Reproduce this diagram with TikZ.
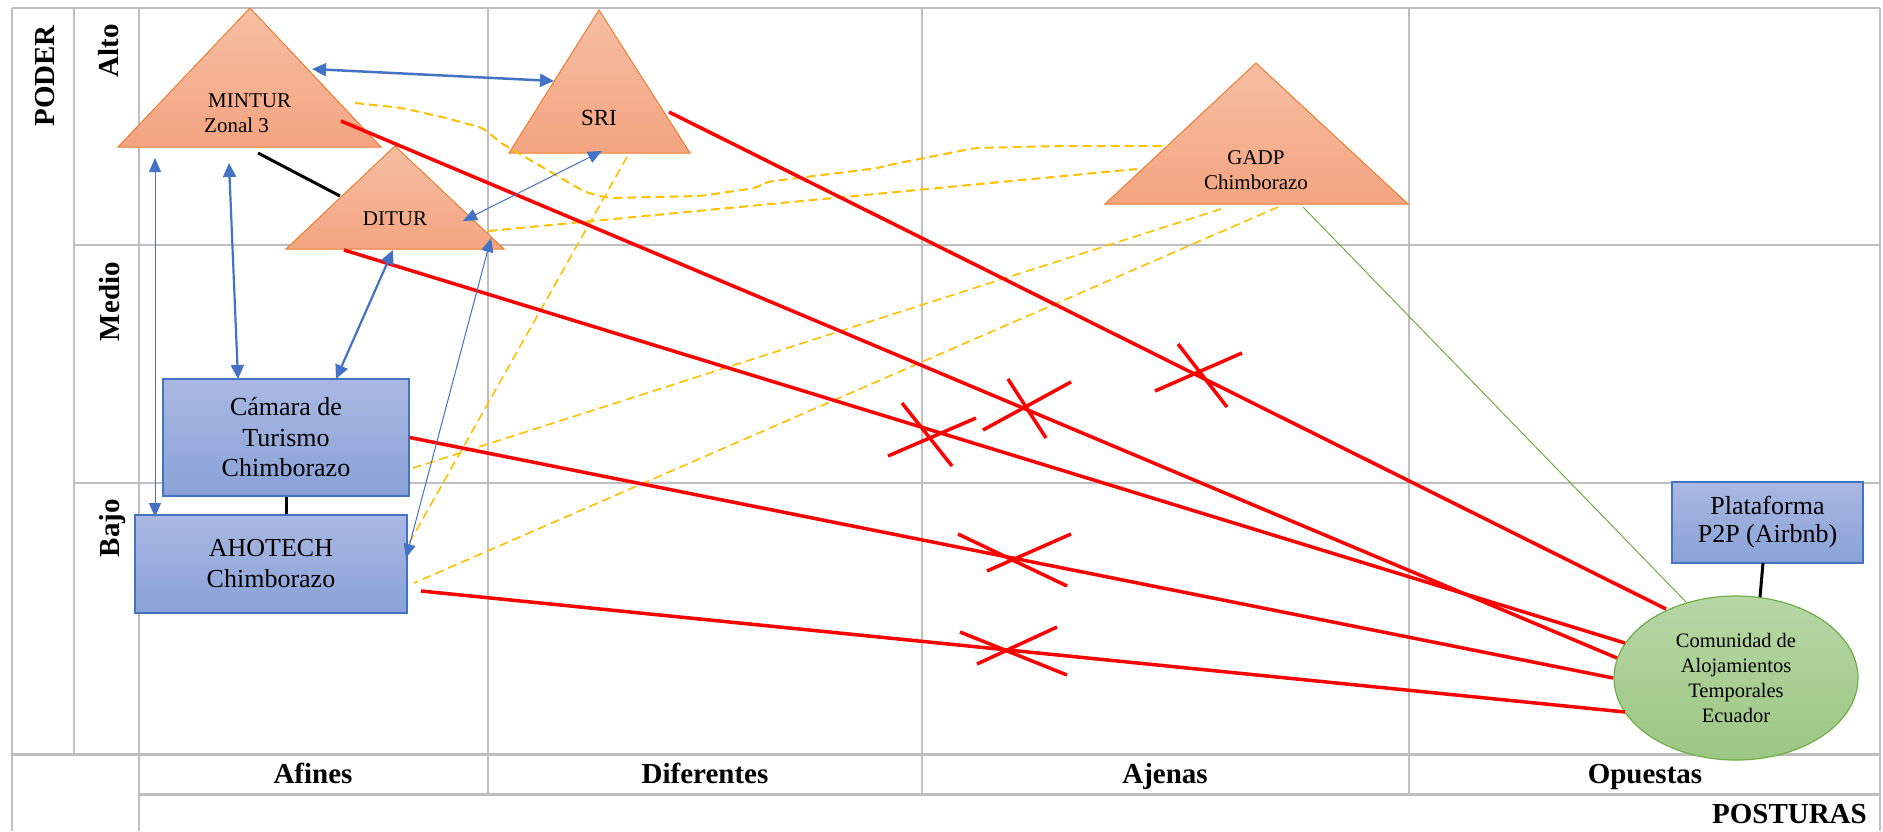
\documentclass[tikz,border=0pt]{standalone}
\usepackage{fontspec}
\setmainfont{Liberation Serif}
\usetikzlibrary{arrows.meta,shapes.geometric}
\definecolor{gridc}{HTML}{BFBFBF}
\definecolor{tribd}{HTML}{ED7D31}
\definecolor{tritop}{RGB}{246,190,163}
\definecolor{tribot}{RGB}{244,164,128}
\definecolor{boxtop}{RGB}{170,184,226}
\definecolor{boxbot}{RGB}{137,162,215}
\definecolor{boxbd}{HTML}{4472C4}
\definecolor{elltop}{RGB}{183,215,166}
\definecolor{ellbot}{RGB}{156,199,131}
\definecolor{ellbd}{HTML}{70AD47}
\definecolor{arrc}{HTML}{4472C4}
\definecolor{dashc}{HTML}{FFC000}
\begin{document}
\begin{tikzpicture}[x=1pt,y=-1pt,
  gridl/.style={draw=gridc,line width=2pt},
  tri/.style={draw=tribd,line width=1pt,top color=tritop,bottom color=tribot},
  trilabel/.style={inner sep=0pt,align=center,font=\fontsize{21}{25}\selectfont},
  bluebox/.style={rectangle,draw=boxbd,line width=1.3pt,top color=boxtop,bottom color=boxbot,inner sep=0pt,align=center},
  hdr/.style={font=\fontsize{29}{34}\selectfont\bfseries,inner sep=0pt},
  rline/.style={draw=red,line width=3.5pt},
  xmark/.style={draw=red,line width=3.5pt},
  blk/.style={draw=black,line width=3pt},
  dline/.style={draw=dashc,line width=2pt,dash pattern=on 9pt off 5pt},
  dlinet/.style={draw=dashc,line width=1.6pt,dash pattern=on 9pt off 5pt},
  greenl/.style={draw=ellbd,line width=1pt},
  barrow/.style={draw=arrc,line width=2.5pt,{Triangle[length=14pt,width=13pt]}-{Triangle[length=14pt,width=13pt]}},
  tarrow/.style={draw=arrc,line width=1pt,{Triangle[length=14pt,width=12pt]}-{Triangle[length=14pt,width=12pt]}}
]
\useasboundingbox (0,0) rectangle (1883,831);
\fill[white] (0,0) rectangle (1883,831);

% ---------- grid ----------
\draw[gridl] (12,8) -- (1880,8);
\draw[gridl] (12,8) -- (12,831);
\draw[gridl] (139,8) -- (139,831);
\draw[gridl] (1880,8) -- (1880,831);
\draw[gridl] (74,8) -- (74,754);
\foreach \x in {488,922,1409} \draw[gridl] (\x,8) -- (\x,794);
\draw[gridl] (74,245) -- (1880,245);
\draw[gridl] (74,483) -- (1880,483);
\draw[gridl,line width=3pt] (12,754) -- (1880,754);
\draw[gridl,line width=3pt] (139,794) -- (1880,794);

% ---------- headers ----------
\node[hdr,rotate=90,anchor=base east] (poder) at (54,25) {PODER};
\node[hdr,rotate=90,anchor=base east] (alto) at (118,24) {Alto};
\node[hdr,rotate=90,anchor=base east] (medio) at (119,262) {Medio};
\node[hdr,rotate=90,anchor=base east] (bajo) at (119,499) {Bajo};
\node[hdr,anchor=base] (afines) at (313,783) {Afines};
\node[hdr,anchor=base] (diferentes) at (705,783) {Diferentes};
\node[hdr,anchor=base] (ajenas) at (1165,783) {Ajenas};
\node[hdr,anchor=base] (opuestas) at (1645,783) {Opuestas};
\node[hdr,anchor=base east] (posturas) at (1867,823) {POSTURAS};

% ---------- triangles ----------
\draw[tri] (250,8) -- (381,147) -- (118,147) -- cycle;
\node[trilabel,align=left,anchor=west] (mintur) at (204,113.5) {\hspace*{4pt}MINTUR\\Zonal 3};
\draw[tri] (599,10) -- (690,153) -- (509,153) -- cycle;
\node[trilabel,font=\fontsize{23}{27}\selectfont] (sri) at (599,118) {SRI};
\draw[tri] (395,146) -- (504,249) -- (286,249) -- cycle;
\node[trilabel] (ditur) at (395,219) {DITUR};
\draw[tri] (1256,63) -- (1408,204) -- (1105,204) -- cycle;
\node[trilabel] (gadp) at (1256,170.5) {GADP\\Chimborazo};

% ---------- boxes ----------
\node[bluebox,minimum width=246pt,minimum height=117pt,font=\fontsize{26}{30.5}\selectfont] (cam) at (286,437.5) {Cámara de\\Turismo\\Chimborazo};
\node[bluebox,minimum width=272pt,minimum height=98pt,font=\fontsize{26}{31}\selectfont] (ahotech) at (271,564) {AHOTECH\\Chimborazo};
\node[bluebox,minimum width=191pt,minimum height=81pt,font=\fontsize{26}{28}\selectfont] (p2p) at (1767.5,522.5) {Plataforma\\P2P (Airbnb)};

% ---------- connector end points ----------
\coordinate (mintur-r) at (341,121);
\coordinate (sri-r) at (669,112);
\coordinate (ditur-r) at (344,250);
\coordinate (ahotech-r) at (421,591);
\coordinate (com-a) at (1666,609);
\coordinate (com-b) at (1617,658);
\coordinate (com-c) at (1625,643);
\coordinate (com-d) at (1613,678);
\coordinate (com-e) at (1625,712);
\coordinate (com-g) at (1686,602);
\coordinate (com-p) at (1760,597);
\coordinate (p2p-s) at (1763,563);
\coordinate (gadp-g) at (1303,207);
\coordinate (mintur-k) at (258,153);
\coordinate (ditur-k) at (340,196);

% ---------- ellipse ----------
\node[ellipse,draw=ellbd,line width=1.2pt,top color=elltop,bottom color=ellbot,minimum width=244pt,minimum height=164pt,inner sep=0pt,align=center,font=\fontsize{20.5}{24.7}\selectfont] (com) at (1736,678) {Comunidad de\\Alojamientos\\Temporales\\Ecuador};

% ---------- dashed orange ----------
\coordinate (mintur-d) at (355,103);
\coordinate (gadp-d1) at (1169,146);
\coordinate (ditur-d) at (488,231);
\coordinate (gadp-d2) at (1137,169);
\coordinate (sri-d) at (627,157);
\coordinate (ahotech-d1) at (408,545);
\coordinate (gadp-d3) at (1221,209);
\coordinate (cam-d) at (413,468);
\coordinate (gadp-d4) at (1278,207);
\coordinate (ahotech-d2) at (414,583);
\draw[dline,rounded corners=6pt] (mintur-d) -- (402,108) -- (446,118) -- (483,128) -- (501,143) -- (585,192) -- (608,198) -- (700,196) -- (756,188) -- (766,182) -- (878,168) -- (889,165) -- (975,148) -- (1062,146) -- (gadp-d1);
\draw[dline] (ditur-d) -- (gadp-d2);
\draw[dlinet] (sri-d) -- (ahotech-d1);
\draw[dlinet] (gadp-d3) -- (cam-d);
\draw[dlinet] (gadp-d4) -- (ahotech-d2);

% ---------- green ----------
\draw[greenl] (gadp-g) -- (com-g);

% ---------- red lines ----------
\draw[rline] (sri-r) -- (com-a);
\draw[rline] (mintur-r) -- (com-b);
\draw[rline] (ditur-r) -- (com-c);
\draw[rline] (cam.east) -- (com-d);
\draw[rline] (ahotech-r) -- (com-e);

% ---------- red crosses ----------
\draw[xmark] (902,403) -- (952,466) (888,456) -- (976,418);
\draw[xmark] (1008,379) -- (1046,438) (983,430) -- (1071,382);
\draw[xmark] (1178,344) -- (1227,407) (1155,391) -- (1242,353);
\draw[xmark] (958,534) -- (1067,586) (987,571) -- (1071,534);
\draw[xmark] (960,632) -- (1067,675) (977,664) -- (1057,627);

% ---------- black ----------
\draw[blk] (mintur-k) -- (ditur-k);
\draw[blk] (cam.south) -- (cam.south |- ahotech.north);
\draw[blk] (p2p-s) -- (com-p);

% ---------- blue arrows ----------
\coordinate (mintur-a1) at (312,69);
\coordinate (sri-a1) at (554,81);
\coordinate (mintur-a2) at (155,158);
\coordinate (ahotech-a2) at (155,517);
\coordinate (mintur-a3) at (229,163);
\coordinate (cam-a3) at (238,379);
\coordinate (ditur-a4) at (393,250);
\coordinate (cam-a4) at (336,379);
\coordinate (ditur-a5) at (463,221);
\coordinate (sri-a5) at (602,151);
\coordinate (ahotech-a6) at (406,558);
\coordinate (ditur-a6) at (491,238);
\draw[barrow] (mintur-a1) -- (sri-a1);
\draw[tarrow] (mintur-a2) -- (ahotech-a2);
\draw[barrow,line width=2.2pt] (mintur-a3) -- (cam-a3);
\draw[barrow,line width=2.2pt] (ditur-a4) -- (cam-a4);
\draw[tarrow] (ditur-a5) -- (sri-a5);
\draw[tarrow] (ahotech-a6) -- (ditur-a6);
\end{tikzpicture}
\end{document}
